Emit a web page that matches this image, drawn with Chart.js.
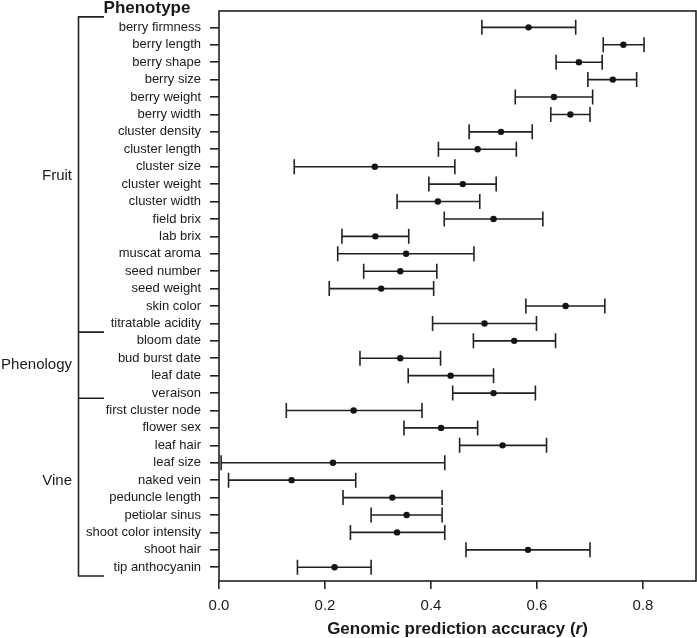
<!DOCTYPE html>
<html>
<head>
<meta charset="utf-8">
<script src="https://cdn.jsdelivr.net/npm/chart.js@4/dist/chart.umd.min.js"></script>
<style>
  html, body { margin: 0; padding: 0; background: #fff; }
  canvas { display: block; }
</style>
</head>
<body>
<canvas id="grafik" width="697" height="638"></canvas>
<script>
// phenotypes, top to bottom
const phenotypes = [
  'berry firmness', 'berry length', 'berry shape', 'berry size', 'berry weight',
  'berry width', 'cluster density', 'cluster length', 'cluster size', 'cluster weight',
  'cluster width', 'field brix', 'lab brix', 'muscat aroma', 'seed number',
  'seed weight', 'skin color', 'titratable acidity', 'bloom date', 'bud burst date',
  'leaf date', 'veraison', 'first cluster node', 'flower sex', 'leaf hair',
  'leaf size', 'naked vein', 'peduncle length', 'petiolar sinus',
  'shoot color intensity', 'shoot hair', 'tip anthocyanin'
];

// mean accuracy (r)
const accuracy = [
  0.584, 0.763, 0.679, 0.743, 0.632, 0.663, 0.532, 0.488, 0.294, 0.460,
  0.413, 0.518, 0.295, 0.353, 0.342, 0.306, 0.654, 0.501, 0.557, 0.342,
  0.437, 0.518, 0.254, 0.419, 0.535, 0.215, 0.137, 0.327, 0.354, 0.336,
  0.583, 0.218
];

// interval ends
const lower = [
  0.496, 0.725, 0.636, 0.696, 0.559, 0.626, 0.472, 0.414, 0.142, 0.396,
  0.336, 0.425, 0.232, 0.224, 0.273, 0.208, 0.579, 0.403, 0.480, 0.266,
  0.357, 0.441, 0.127, 0.349, 0.454, 0.004, 0.018, 0.234, 0.287, 0.248,
  0.466, 0.148
];
const upper = [
  0.673, 0.802, 0.723, 0.788, 0.705, 0.700, 0.591, 0.561, 0.445, 0.523,
  0.492, 0.611, 0.358, 0.481, 0.411, 0.405, 0.728, 0.599, 0.635, 0.418,
  0.518, 0.597, 0.383, 0.488, 0.618, 0.426, 0.258, 0.421, 0.421, 0.426,
  0.700, 0.287
];

const xTicks = [0, 0.2, 0.4, 0.6, 0.8];

// groups on the left
const groupNames = ['Fruit', 'Phenology', 'Vine'];
const groupBreaks = [-0.6, 17.5, 21.3, 31.5];
const groupLabelPos = [8.5, 19.4, 26.05];

const ink = '#222222';
const textInk = '#1a1a1a';
const fam = '"Liberation Sans", Arial, sans-serif';

const errorBars = {
  id: 'errorBars',
  beforeDatasetsDraw(chart) {
    const { ctx, scales: { x, y } } = chart;
    ctx.save();
    ctx.strokeStyle = ink;
    ctx.lineWidth = 1.6;
    for (let i = 0; i < phenotypes.length; i++) {
      const py = y.getPixelForValue(i);
      const x0 = x.getPixelForValue(lower[i]);
      const x1 = x.getPixelForValue(upper[i]);
      ctx.beginPath();
      ctx.moveTo(x0, py); ctx.lineTo(x1, py);
      ctx.moveTo(x0, py - 7.5); ctx.lineTo(x0, py + 7.5);
      ctx.moveTo(x1, py - 7.5); ctx.lineTo(x1, py + 7.5);
      ctx.stroke();
    }
    ctx.restore();
  }
};

const decor = {
  id: 'decor',
  afterDraw(chart) {
    const { ctx, chartArea: a, scales: { y } } = chart;
    ctx.save();
    // box
    ctx.strokeStyle = ink;
    ctx.lineWidth = 1.6;
    ctx.strokeRect(a.left, a.top, a.right - a.left, a.bottom - a.top);

    // bracket
    const bx = 78.5, bx2 = 104;
    const yTop = y.getPixelForValue(groupBreaks[0]);
    const yBot = y.getPixelForValue(groupBreaks[groupBreaks.length - 1]);
    ctx.beginPath();
    ctx.moveTo(bx2, yTop); ctx.lineTo(bx, yTop); ctx.lineTo(bx, yBot); ctx.lineTo(bx2, yBot);
    for (let k = 1; k < groupBreaks.length - 1; k++) {
      const yy = y.getPixelForValue(groupBreaks[k]);
      ctx.moveTo(bx, yy); ctx.lineTo(bx2, yy);
    }
    ctx.stroke();

    ctx.fillStyle = textInk;
    ctx.font = '15px ' + fam;
    ctx.textAlign = 'right';
    ctx.textBaseline = 'middle';
    groupNames.forEach((g, k) => {
      ctx.fillText(g, 72, y.getPixelForValue(groupLabelPos[k]));
    });

    // header
    ctx.font = 'bold 17px ' + fam;
    ctx.textAlign = 'center';
    ctx.textBaseline = 'alphabetic';
    ctx.fillText('Phenotype', 147, 12.5);

    // axis title with italic r
    const parts = [
      ['Genomic prediction accuracy (', 'bold 17px ' + fam],
      ['r', 'italic bold 17px ' + fam],
      [')', 'bold 17px ' + fam]
    ];
    let w = 0;
    parts.forEach(p => { ctx.font = p[1]; w += ctx.measureText(p[0]).width; });
    let tx = (a.left + a.right) / 2 - w / 2;
    ctx.textAlign = 'left';
    ctx.textBaseline = 'middle';
    parts.forEach(p => {
      ctx.font = p[1];
      ctx.fillText(p[0], tx, 629.5);
      tx += ctx.measureText(p[0]).width;
    });
    ctx.restore();
  }
};

const ctx = document.getElementById('grafik').getContext('2d');
new Chart(ctx, {
  type: 'scatter',
  data: {
    datasets: [{
      label: 'accuracy',
      data: accuracy.map((v, i) => ({ x: v, y: i })),
      backgroundColor: '#141414',
      borderWidth: 0,
      pointRadius: 3.2,
    }],
  },
  options: {
    responsive: false,
    animation: false,
    layout: { autoPadding: false, padding: { top: 11, right: 1, left: 0, bottom: 0 } },
    plugins: {
      legend: { display: false },
      tooltip: { enabled: false },
    },
    scales: {
      x: {
        type: 'linear',
        min: 0,
        max: 0.9,
        afterFit(scale) {
          scale.height = 57;
          scale.paddingLeft = 0;
          scale.paddingRight = 0;
        },
        afterBuildTicks(scale) { scale.ticks = xTicks.map(v => ({ value: v })); },
        border: { display: false },
        grid: { drawOnChartArea: false, drawTicks: true, tickLength: 8, color: ink, lineWidth: 1.6 },
        ticks: {
          padding: 8,
          color: textInk,
          font: { family: fam, size: 15 },
          callback: v => Number(v).toFixed(1),
        },
      },
      y: {
        type: 'linear',
        reverse: true,
        min: -0.94,
        max: 31.79,
        afterFit(scale) {
          scale.width = 219;
          scale.paddingTop = 0;
          scale.paddingBottom = 0;
        },
        afterBuildTicks(scale) { scale.ticks = phenotypes.map((_, i) => ({ value: i })); },
        border: { display: false },
        grid: { drawOnChartArea: false, drawTicks: true, tickLength: 9, color: ink, lineWidth: 1.6 },
        ticks: {
          autoSkip: false,
          padding: 9,
          color: textInk,
          font: { family: fam, size: 13 },
          callback: v => phenotypes[v],
        },
      },
    },
  },
  plugins: [errorBars, decor],
});
</script>
</body>
</html>
